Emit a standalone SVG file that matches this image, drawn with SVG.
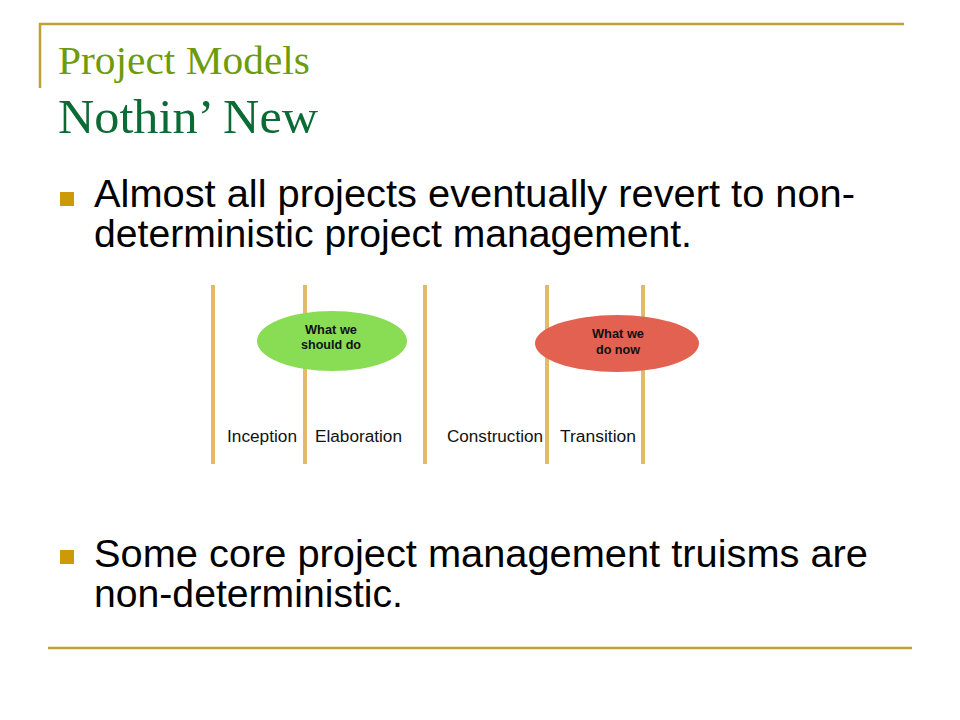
<svg xmlns="http://www.w3.org/2000/svg" width="960" height="720" viewBox="0 0 960 720">
<style>
.rule{stroke:#BFA036;stroke-width:2.5;fill:none}
.title1{font-family:"Liberation Serif",serif;font-size:41px;fill:#6E9B0C}
.title2{font-family:"Liberation Serif",serif;font-size:49px;fill:#0B6B35}
.body{font-family:"Liberation Sans",Arial,sans-serif;font-size:38px;fill:#000}
.bullet{fill:#CC9A06}
.phase{stroke:#E2BA6A;stroke-width:4}
.lbl{font-family:"Liberation Sans",Arial,sans-serif;font-size:16px;fill:#111}
.oval{font-family:"Liberation Sans",Arial,sans-serif;font-size:12px;font-weight:bold;fill:#111;text-anchor:middle}
</style>
<rect width="960" height="720" fill="#fff"/>
<g id="frame">
<path class="rule" d="M40 88 V24 H904"/>
<path class="rule" d="M48 648 H912"/>
</g>
<g id="title">
<text class="title1" x="58" y="74" textLength="252" lengthAdjust="spacingAndGlyphs">Project Models</text>
<text class="title2" x="58" y="133" textLength="260" lengthAdjust="spacingAndGlyphs">Nothin’ New</text>
</g>
<g id="bullet1">
<rect class="bullet" x="60" y="192" width="14" height="14"/>
<text class="body" x="94" y="207" textLength="761" lengthAdjust="spacingAndGlyphs">Almost all projects eventually revert to non-</text>
<text class="body" x="94" y="247" textLength="598" lengthAdjust="spacingAndGlyphs">deterministic project management.</text>
</g>
<g id="connectors">
<line class="phase" x1="213" y1="285" x2="213" y2="464"/>
<line class="phase" x1="305" y1="285" x2="305" y2="464"/>
<line class="phase" x1="425" y1="285" x2="425" y2="464"/>
<line class="phase" x1="547" y1="285" x2="547" y2="464"/>
<line class="phase" x1="643" y1="285" x2="643" y2="464"/>
</g>
<g id="should">
<ellipse cx="332" cy="341" rx="75" ry="30" fill="#88DD55"/>
<text class="oval" x="331" y="334" textLength="52" lengthAdjust="spacingAndGlyphs">What we</text>
<text class="oval" x="331" y="349" textLength="60" lengthAdjust="spacingAndGlyphs">should do</text>
</g>
<g id="now">
<ellipse cx="617" cy="343.5" rx="82" ry="28.5" fill="#E26150"/>
<text class="oval" x="618" y="338" textLength="52" lengthAdjust="spacingAndGlyphs">What we</text>
<text class="oval" x="618" y="354" textLength="44" lengthAdjust="spacingAndGlyphs">do now</text>
</g>
<g id="labels">
<text class="lbl" x="227" y="442" textLength="70" lengthAdjust="spacingAndGlyphs">Inception</text>
<text class="lbl" x="315" y="442" textLength="87" lengthAdjust="spacingAndGlyphs">Elaboration</text>
<text class="lbl" x="447" y="442" textLength="96" lengthAdjust="spacingAndGlyphs">Construction</text>
<text class="lbl" x="560" y="442" textLength="76" lengthAdjust="spacingAndGlyphs">Transition</text>
</g>
<g id="bullet2">
<rect class="bullet" x="60" y="550" width="14" height="14"/>
<text class="body" x="94" y="567" textLength="774" lengthAdjust="spacingAndGlyphs">Some core project management truisms are</text>
<text class="body" x="94" y="607" textLength="309" lengthAdjust="spacingAndGlyphs">non-deterministic.</text>
</g>
</svg>
